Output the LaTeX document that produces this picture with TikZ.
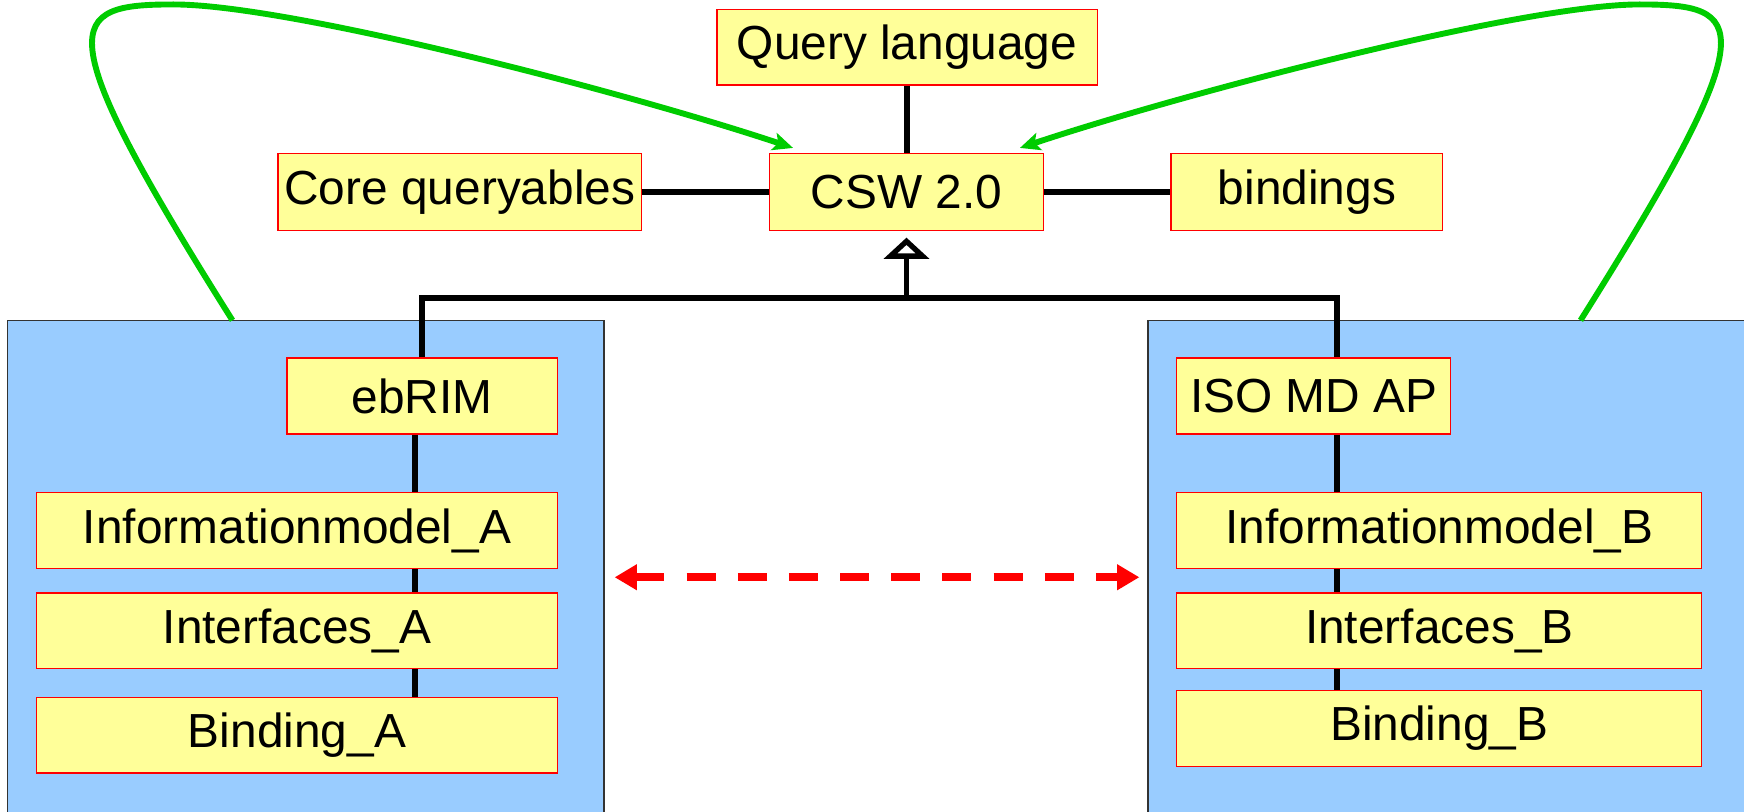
\documentclass[tikz,border=0pt]{standalone}
\usepackage{fontspec}
\setmainfont{Liberation Sans}
\usetikzlibrary{arrows.meta,calc}
\definecolor{boxyellow}{HTML}{FFFF99}
\definecolor{pkgblue}{HTML}{99CCFF}
\definecolor{linkgreen}{HTML}{00CC00}
\begin{document}
\begin{tikzpicture}[x=1pt,y=-1pt,
  ybox/.style={draw=red, fill=boxyellow, line width=1.3pt, minimum height=68pt, inner sep=0pt, font=\fontsize{43pt}{50pt}\selectfont},
  pkg/.style={draw=black!80, fill=pkgblue, line width=1.2pt, inner sep=0pt},
  conn/.style={line width=5.3pt, black},
  greenlink/.style={line width=5.3pt, linkgreen, -{Stealth[length=18pt,width=16pt,inset=4pt]}},
  redlink/.style={red, line width=7pt, dash pattern=on 26pt off 20pt, {Triangle[length=20pt,width=22pt]}-{Triangle[length=20pt,width=22pt]}},
]
\useasboundingbox (0,0) rectangle (1568,730);
% packages
\node[pkg, minimum width=536pt, minimum height=460pt] (pkgA) at (275,518) {};
\node[pkg, minimum width=560pt, minimum height=460pt] (pkgB) at (1312,518) {};
% top nodes
\node[ybox, minimum width=342pt] (ql) at (815.5,42.5) {Query language};
\node[ybox, minimum width=246pt, minimum height=69pt] (csw) at (815,172.5) {CSW 2.0};
\node[ybox, minimum width=327pt, minimum height=69pt] (cq) at (413.5,172.5) {Core queryables};
\node[ybox, minimum width=244pt, minimum height=69pt] (bind) at (1175,172.5) {bindings};
% left package
\node[ybox, minimum width=243pt] (ebrim) at (379.5,356) {ebRIM};
\node[ybox, minimum width=468pt] (infoA) at (267,477) {Informationmodel\_A};
\node[ybox, minimum width=468pt] (intA) at (267,567) {Interfaces\_A};
\node[ybox, minimum width=468pt] (binA) at (267,661) {Binding\_A};
% right package
\node[ybox, minimum width=246pt] (iso) at (1181,356) {ISO MD AP};
\node[ybox, minimum width=472pt] (infoB) at (1294,477) {Informationmodel\_B};
\node[ybox, minimum width=472pt] (intB) at (1294,567) {Interfaces\_B};
\node[ybox, minimum width=472pt] (binB) at (1294,655) {Binding\_B};
% helper coordinates
\coordinate (lxA) at (373,0);
\coordinate (lxB) at (1202,0);
\coordinate (bus) at (815,268);
\coordinate (ry) at (0,519);
% connectors around CSW
\draw[conn] (ql.south) -- (ql.south |- csw.north);
\draw[conn] (cq.east) -- (csw.west);
\draw[conn] (csw.east) -- (bind.west);
% bus
\draw[conn] (ebrim.north) -- (ebrim.north |- bus) -| (iso.north -| lxB);
\draw[conn, -{Triangle[open,length=19pt,width=40pt]}] (bus) -- ($(csw.south)+(0,6)$);
% inner lines
\draw[conn] (ebrim.south -| lxA) -- (infoA.north -| lxA);
\draw[conn] (infoA.south -| lxA) -- (intA.north -| lxA);
\draw[conn] (intA.south -| lxA) -- (binA.north -| lxA);
\draw[conn] (iso.south -| lxB) -- (infoB.north -| lxB);
\draw[conn] (infoB.south -| lxB) -- (intB.north -| lxB);
\draw[conn] (intB.south -| lxB) -- (binB.north -| lxB);
% red dashed double arrow
\draw[redlink, shorten <=9pt, shorten >=7pt] (pkgA.east |- ry) -- (pkgB.west |- ry);
% green curves
\coordinate (gAs) at (209,288);
\coordinate (gAt) at (156,4);
\coordinate (gAe) at (713,133);
\coordinate (gBs) at (1421,288);
\coordinate (gBt) at (1474,4);
\coordinate (gBe) at (917,133);
\draw[greenlink] (gAs) .. controls (40,20) and (60,4) .. (gAt) .. controls (260,4) and (563,83) .. (gAe);
\draw[greenlink] (gBs) .. controls (1590,20) and (1570,4) .. (gBt) .. controls (1370,4) and (1067,83) .. (gBe);
\end{tikzpicture}
\end{document}
